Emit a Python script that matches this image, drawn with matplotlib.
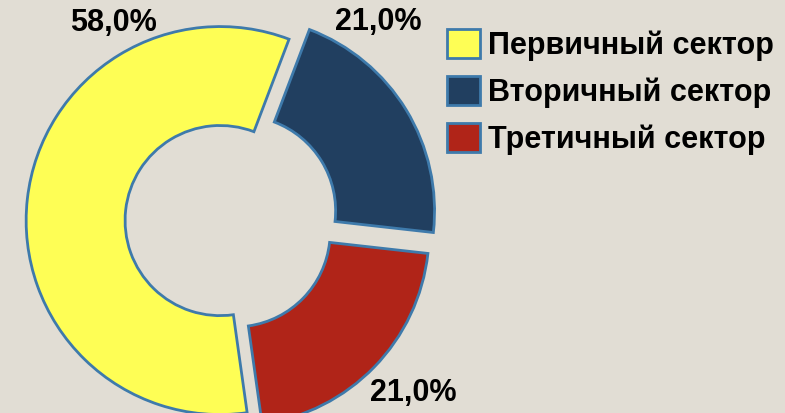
import matplotlib.pyplot as plt

# data
sectors = ['Первичный сектор', 'Вторичный сектор', 'Третичный сектор']
shares = [58.0, 21.0, 21.0]
colors = ['#FEFE55', '#213F60', '#B02418']
explode = [0.02, 0.10, 0.08]

BG = '#E1DDD4'
EDGE = '#3E7AAB'
FONT = ['Liberation Sans', 'DejaVu Sans']

fig = plt.figure(figsize=(7.85, 4.13), dpi=100, facecolor=BG)
ax = fig.add_axes([0, 0, 1, 1])
ax.set_facecolor(BG)

wedges, _ = ax.pie(shares, colors=colors, explode=explode, startangle=278,
                   counterclock=False, radius=1.0,
                   wedgeprops=dict(width=0.51, edgecolor=EDGE, linewidth=2))

# pixel-like limits: 1 unit = 194 px, donut centre at (224, 221) px
PX = 194
cx, cy = 224, 221
ax.set_xlim(-cx / PX, (785 - cx) / PX)
ax.set_ylim(-(413 - cy) / PX, cy / PX)
ax.set_aspect('equal', adjustable='box')
ax.axis('off')

# percentage labels
label_pos = [(113, 23), (378, 22), (413, 393)]
for val, (px, py) in zip(shares, label_pos):
    fig.text(px / 785, 1 - py / 413, f'{val:.1f}%'.replace('.', ','),
             ha='center', va='center', fontsize=22, fontweight='bold',
             family=FONT, color='black')

leg = fig.legend(wedges, sectors, loc='upper left',
                 bbox_to_anchor=(447 / 785, 1 - 29 / 413),
                 frameon=False, borderpad=0, borderaxespad=0,
                 handlelength=1.08, handleheight=1.08, handletextpad=0.25,
                 labelspacing=0.5,
                 prop=dict(family=FONT, weight='bold', size=22))

fig.savefig('out.png', dpi=100, facecolor=BG)
